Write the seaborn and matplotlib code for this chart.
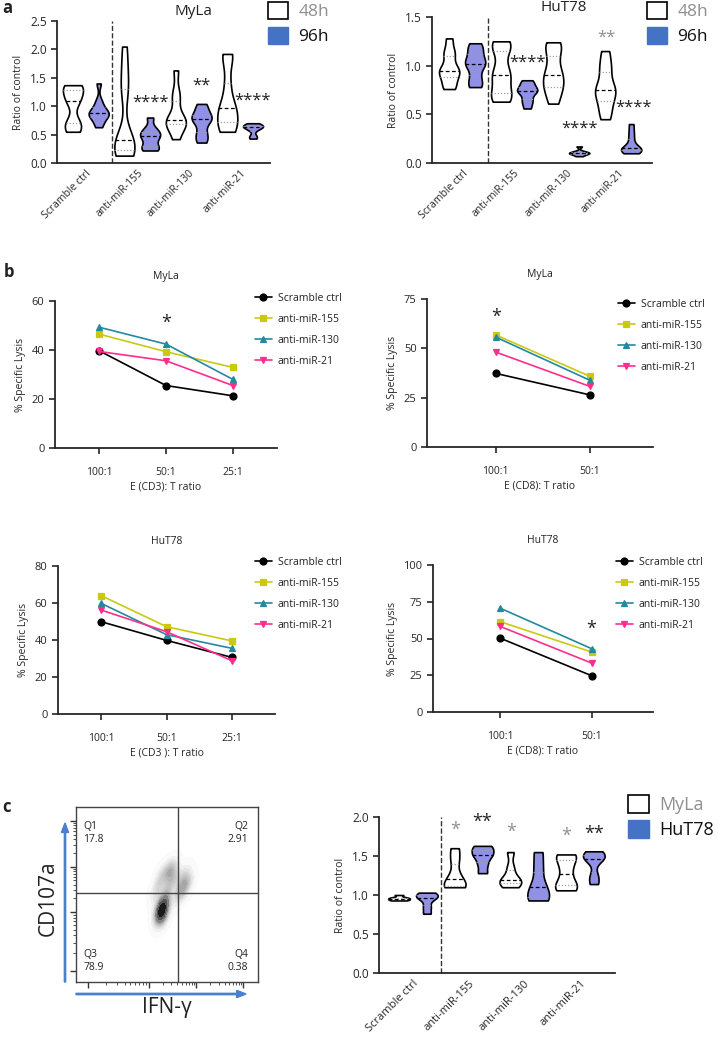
import matplotlib.pyplot as plt
import matplotlib.transforms as mtransforms
from matplotlib.patches import Patch, FancyArrow
from matplotlib.collections import LineCollection
import numpy as np
import pandas as pd
import seaborn as sns

# ---------------- data ----------------
groups = ['Scramble ctrl', 'anti-miR-155', 'anti-miR-130', 'anti-miR-21']

# panel a, MyLa, ratio of control (one list per group)
myla_48h = [
    [0.55, 0.58, 0.70, 0.74, 1.05, 1.12, 1.22, 1.30, 1.36, 1.37],
    [0.13, 0.15, 0.20, 0.27, 0.35, 0.41, 0.45, 1.20, 1.40, 1.70, 2.05],
    [0.42, 0.62, 0.68, 0.72, 0.75, 0.82, 1.10, 1.25, 1.63],
    [0.55, 0.60, 0.72, 0.85, 0.96, 1.05, 1.40, 1.85, 1.92],
]
myla_96h = [
    [0.63, 0.72, 0.80, 0.84, 0.87, 0.88, 0.92, 1.00, 1.10, 1.40],
    [0.22, 0.25, 0.30, 0.40, 0.47, 0.50, 0.55, 0.62, 0.80],
    [0.36, 0.45, 0.55, 0.70, 0.77, 0.80, 0.85, 0.95, 1.04],
    [0.43, 0.48, 0.58, 0.62, 0.64, 0.65, 0.67, 0.70],
]
# panel a, HuT78
hut_48h = [
    [0.76, 0.80, 0.88, 0.93, 0.95, 0.98, 1.10, 1.15, 1.28],
    [0.63, 0.68, 0.72, 0.85, 0.90, 0.98, 1.15, 1.22, 1.25],
    [0.61, 0.72, 0.78, 0.85, 0.90, 0.98, 1.10, 1.20, 1.24],
    [0.45, 0.55, 0.64, 0.72, 0.75, 0.80, 0.93, 1.02, 1.15],
]
hut_96h = [
    [0.78, 0.82, 0.90, 1.00, 1.02, 1.05, 1.12, 1.18, 1.23],
    [0.56, 0.62, 0.66, 0.72, 0.74, 0.75, 0.78, 0.82, 0.85],
    [0.07, 0.09, 0.10, 0.10, 0.11, 0.12, 0.17],
    [0.10, 0.12, 0.13, 0.14, 0.15, 0.18, 0.25, 0.32, 0.40],
]
# panel c, degranulation ratio of control
c_myla = [
    [0.93, 0.94, 0.95, 0.96, 0.97, 1.00],
    [1.10, 1.11, 1.15, 1.26, 1.45, 1.60],
    [1.10, 1.15, 1.18, 1.21, 1.35, 1.55],
    [1.06, 1.10, 1.20, 1.35, 1.48, 1.52],
]
c_hut = [
    [0.76, 0.85, 0.95, 0.98, 1.00, 1.03],
    [1.28, 1.40, 1.50, 1.53, 1.60, 1.63],
    [0.93, 0.95, 1.05, 1.15, 1.35, 1.55],
    [1.14, 1.25, 1.45, 1.48, 1.52, 1.56],
]

# panel b, % specific lysis
series_names = ['Scramble ctrl', 'anti-miR-155', 'anti-miR-130', 'anti-miR-21']
ratios3 = ['100:1', '50:1', '25:1']
ratios2 = ['100:1', '50:1']
myla_cd3 = [[39.7, 25.5, 21.3], [46.5, 39.3, 32.9], [49.3, 42.4, 28.0], [39.4, 35.6, 25.5]]
myla_cd8 = [[37.3, 26.4], [56.8, 35.8], [55.7, 33.8], [48.1, 30.7]]
hut_cd3 = [[49.9, 39.8, 30.6], [64.0, 47.2, 39.5], [59.8, 42.9, 35.5], [56.2, 44.5, 28.8]]
hut_cd8 = [[50.3, 24.7], [61.5, 40.8], [70.7, 43.1], [58.3, 33.3]]

# panel c flow plot, event cloud (scaled channel units)
flow_x = [0.46, 0.47, 0.47, 0.48, 0.46, 0.47, 0.48, 0.47, 0.49, 0.50,
          0.45, 0.52, 0.55, 0.58, 0.60, 0.53, 0.50, 0.56, 0.48,
          0.44, 0.60, 0.47, 0.58, 0.52, 0.62]
flow_y = [0.40, 0.41, 0.39, 0.42, 0.43, 0.37, 0.40, 0.44, 0.47, 0.52,
          0.55, 0.58, 0.60, 0.57, 0.55, 0.64, 0.62, 0.50, 0.35,
          0.50, 0.62, 0.62, 0.50, 0.66, 0.57]
quadrants = ['Q1', 'Q2', 'Q3', 'Q4']
quad_pct = ['17.8', '2.91', '78.9', '0.38']

# ---------------- style ----------------
sns.set_style('ticks')
plt.rcParams['font.family'] = ['Open Sans', 'DejaVu Sans']
plt.rcParams['axes.linewidth'] = 1.3
plt.rcParams['xtick.major.width'] = 1.2
plt.rcParams['ytick.major.width'] = 1.2
plt.rcParams['text.color'] = '#222222'

violet = '#8282f2'
legend_blue = '#4472C4'
gray_txt = '#8f8f8f'
line_colors = ['#000000', '#c9c914', '#2289a0', '#ff2d8d']
line_markers = ['o', 's', '^', 'v']

W, H = 718, 1050
fig = plt.figure(figsize=(W / 100, H / 100), dpi=100)


def px_axes(l, t, r, b):
    return fig.add_axes([l / W, 1 - b / H, (r - l) / W, (b - t) / H])


def fig_xy(x, y):
    return x / W, 1 - y / H


def violin_panel(ax, left_vals, right_vals, hue_names, xlim, ylim, yticks, dx, fs):
    rows = []
    for name, vals in zip(hue_names, [left_vals, right_vals]):
        for g, obs in zip(groups, vals):
            for v in obs:
                rows.append((g, name, v))
    df = pd.DataFrame(rows, columns=['group', 'hue', 'value'])
    sns.violinplot(data=df, x='group', y='value', hue='hue', order=groups,
                   hue_order=hue_names, palette=['white', violet], inner='quart',
                   cut=0, density_norm='width', width=1.0, gap=0.22, linewidth=1.2,
                   linecolor='black', bw_adjust=0.6, inner_kws=dict(linewidth=0.9),
                   legend=False, ax=ax)
    # median dashed black, quartiles dotted grey
    for i, ln in enumerate(ax.lines):
        if i % 3 == 1:
            ln.set_color('black')
            ln.set_dashes([3, 2])
        else:
            ln.set_color('#a0a0a0')
            ln.set_dashes([1, 1.5])
    for coll in ax.collections:
        if isinstance(coll, LineCollection) and len(coll.get_segments()) == 3:
            coll.set_colors(['#a0a0a0', 'black', '#a0a0a0'])
    ax.axvline(0.5, ls='--', color='#333333', lw=1.0)
    ax.set_xlim(*xlim)
    ax.set_ylim(*ylim)
    ax.set_yticks(yticks)
    ax.set_yticklabels([f'{t:.1f}' for t in yticks], fontsize=8.5)
    ax.set_xlabel('')
    ax.set_ylabel('Ratio of control', fontsize=7.5)
    ax.set_xticks(range(len(groups)))
    ax.set_xticklabels(groups, rotation=45, ha='right', rotation_mode='anchor', fontsize=fs)
    offset = mtransforms.ScaledTranslation(dx / 100, 0, fig.dpi_scale_trans)
    for lbl in ax.get_xticklabels():
        lbl.set_transform(lbl.get_transform() + offset)
    ax.tick_params(axis='x', length=0)
    ax.tick_params(axis='y', length=4)
    sns.despine(ax=ax)


def box_legend(x, y, labels, colors, fs):
    handles = [Patch(facecolor='white', edgecolor='black', lw=1.2),
               Patch(facecolor=legend_blue, edgecolor=legend_blue)]
    leg = fig.legend(handles, labels, loc='upper left', bbox_to_anchor=fig_xy(x, y),
                     frameon=False, fontsize=fs, handlelength=1.15, handleheight=1.15,
                     handletextpad=0.6, labelspacing=0.35, borderpad=0, borderaxespad=0)
    for t, c in zip(leg.get_texts(), colors):
        t.set_color(c)


def lysis_panel(ax, ratios, values, title, xlabel, yticks, leg_xy):
    rows = []
    for name, vals in zip(series_names, values):
        for r, v in zip(ratios, vals):
            rows.append((name, r, v))
    df = pd.DataFrame(rows, columns=['group', 'ratio', 'lysis'])
    sns.pointplot(data=df, x='ratio', y='lysis', hue='group', order=ratios,
                  hue_order=series_names, palette=line_colors, markers=line_markers,
                  linestyles=['-'] * 4, markersize=5, linewidth=1.2, errorbar=None, ax=ax)
    handles, labels = ax.get_legend_handles_labels()
    ax.get_legend().remove()
    fig.legend(handles, labels, loc='upper left', bbox_to_anchor=fig_xy(*leg_xy),
               frameon=False, fontsize=7.5, handlelength=1.6, handletextpad=0.6,
               labelspacing=0.95, borderpad=0, borderaxespad=0)
    ax.set_ylim(yticks[0], yticks[-1])
    ax.set_yticks(yticks)
    ax.tick_params(axis='y', labelsize=8, length=4)
    ax.tick_params(axis='x', labelsize=7.5, length=4.5, pad=9)
    ax.set_title(title, fontsize=7.5, pad=16)
    ax.set_xlabel(xlabel, fontsize=7.5, labelpad=3)
    ax.set_ylabel('% Specific Lysis', fontsize=7.5)
    sns.despine(ax=ax)


# ---------------- panel a ----------------
ax_a1 = px_axes(57, 21, 270, 163)
violin_panel(ax_a1, myla_48h, myla_96h, ['48h', '96h'], (-0.56, 3.58), (0, 2.5),
             [0.0, 0.5, 1.0, 1.5, 2.0, 2.5], 14, 7.5)
ax_a1.set_title('MyLa', fontsize=11, pad=4, x=0.64)
ax_a1.text(1.25, 1.07, '****', ha='center', va='center', fontsize=12)
ax_a1.text(2.25, 1.36, '**', ha='center', va='center', fontsize=12)
ax_a1.text(3.25, 1.10, '****', ha='center', va='center', fontsize=12)
box_legend(268, 2, ['48h', '96h'], [gray_txt, '#111111'], 12.5)

ax_a2 = px_axes(432, 17, 652, 163)
violin_panel(ax_a2, hut_48h, hut_96h, ['48h', '96h'], (-0.58, 3.65), (0, 1.5),
             [0.0, 0.5, 1.0, 1.5], 14, 7.5)
ax_a2.set_title('HuT78', fontsize=11, pad=4, x=0.6)
ax_a2.text(1.25, 1.03, '****', ha='center', va='center', fontsize=12)
ax_a2.text(2.25, 0.35, '****', ha='center', va='center', fontsize=12)
ax_a2.text(2.78, 1.29, '**', ha='center', va='center', fontsize=12, color=gray_txt)
ax_a2.text(3.3, 0.57, '****', ha='center', va='center', fontsize=12)
box_legend(647, 2, ['48h', '96h'], [gray_txt, '#111111'], 12.5)

# ---------------- panel b ----------------
ax_b1 = px_axes(55, 301, 277, 448)
lysis_panel(ax_b1, ratios3, myla_cd3, 'MyLa', 'E (CD3): T ratio', [0, 20, 40, 60], (255, 293))
ax_b1.set_xlim(-0.66, 2.66)
ax_b1.text(1, 51, '*', ha='center', va='center', fontsize=13)

ax_b2 = px_axes(427, 299, 653, 447)
lysis_panel(ax_b2, ratios2, myla_cd8, 'MyLa', 'E (CD8): T ratio', [0, 25, 50, 75], (618, 299))
ax_b2.set_xlim(-0.73, 1.67)
ax_b2.text(0, 66, '*', ha='center', va='center', fontsize=13)

ax_b3 = px_axes(58, 566, 275, 714)
lysis_panel(ax_b3, ratios3, hut_cd3, 'HuT78', 'E (CD3 ): T ratio', [0, 20, 40, 60, 80], (255, 557))
ax_b3.set_xlim(-0.66, 2.66)

ax_b4 = px_axes(433, 565, 653, 712)
lysis_panel(ax_b4, ratios2, hut_cd8, 'HuT78', 'E (CD8): T ratio', [0, 25, 50, 75, 100], (616, 557))
ax_b4.set_xlim(-0.73, 1.67)
ax_b4.text(1, 56.5, '*', ha='center', va='center', fontsize=13)

# ---------------- panel c, flow plot ----------------
ax_f = px_axes(76, 807, 258, 982)
sns.kdeplot(x=flow_x, y=flow_y, fill=True, cmap='Greys', levels=14, thresh=0.015,
            bw_adjust=0.85, ax=ax_f)
ax_f.set_xlim(0, 1)
ax_f.set_ylim(0, 1)
ax_f.axvline(0.56, color='#444444', lw=1.0)
ax_f.axhline(0.51, color='#444444', lw=1.0)
for sp in ax_f.spines.values():
    sp.set_linewidth(1.0)
    sp.set_color('#444444')
quad_pos = [(0.04, 0.92, 'left'), (0.945, 0.92, 'right'), (0.04, 0.19, 'left'), (0.945, 0.19, 'right')]
for (qx, qy, ha), q, p in zip(quad_pos, quadrants, quad_pct):
    ax_f.text(qx, qy, f'{q}\n{p}', ha=ha, va='top', fontsize=7.5, linespacing=1.25)
decades = [0.065, 0.40, 0.66, 0.92]
minor = []
for lo, hi in zip(decades[:-1], decades[1:]):
    minor += [lo + np.log10(k) * (hi - lo) for k in range(2, 10)]
ax_f.set_xticks(decades)
ax_f.set_yticks(decades)
ax_f.set_xticks(minor, minor=True)
ax_f.set_yticks(minor, minor=True)
ax_f.set_xticklabels([])
ax_f.set_yticklabels([])
ax_f.tick_params(which='major', length=4, width=1.0, color='#333333')
ax_f.tick_params(which='minor', length=2, width=0.6, color='#333333')
ax_f.set_xlabel('')
ax_f.set_ylabel('')

fig.add_artist(FancyArrow(*fig_xy(65, 982), 0, (982 - 823) / H, width=0.0018,
                          head_width=0.010, head_length=0.009, color='#4a7fd0',
                          transform=fig.transFigure, length_includes_head=True))
fig.add_artist(FancyArrow(*fig_xy(76, 994), (246 - 76) / W, 0, width=0.0013,
                          head_width=0.007, head_length=0.013, color='#4a7fd0',
                          transform=fig.transFigure, length_includes_head=True))
fig.text(*fig_xy(48, 898), 'CD107a', rotation=90, ha='center', va='center', fontsize=15)
fig.text(*fig_xy(167, 1008), 'IFN-γ', ha='center', va='center', fontsize=15)

# ---------------- panel c, violins ----------------
ax_c = px_axes(379, 817, 615, 973)
violin_panel(ax_c, c_myla, c_hut, ['MyLa', 'HuT78'], (-0.61, 3.63), (0, 2.0),
             [0.0, 0.5, 1.0, 1.5, 2.0], 24, 8)
ax_c.text(0.75, 1.83, '*', ha='center', va='center', fontsize=13, color=gray_txt)
ax_c.text(1.25, 1.94, '**', ha='center', va='center', fontsize=13)
ax_c.text(1.77, 1.81, '*', ha='center', va='center', fontsize=13, color=gray_txt)
ax_c.text(2.75, 1.76, '*', ha='center', va='center', fontsize=13, color=gray_txt)
ax_c.text(3.25, 1.79, '**', ha='center', va='center', fontsize=13)
box_legend(628, 795, ['MyLa', 'HuT78'], [gray_txt, '#111111'], 13)

# panel letters
for letter, (lx, ly) in zip(['a', 'b', 'c'], [(2, 8), (4, 272), (2, 807)]):
    fig.text(*fig_xy(lx, ly), letter, fontsize=12, fontweight='bold', ha='left', va='center')

fig.savefig('out.png', dpi=100)
